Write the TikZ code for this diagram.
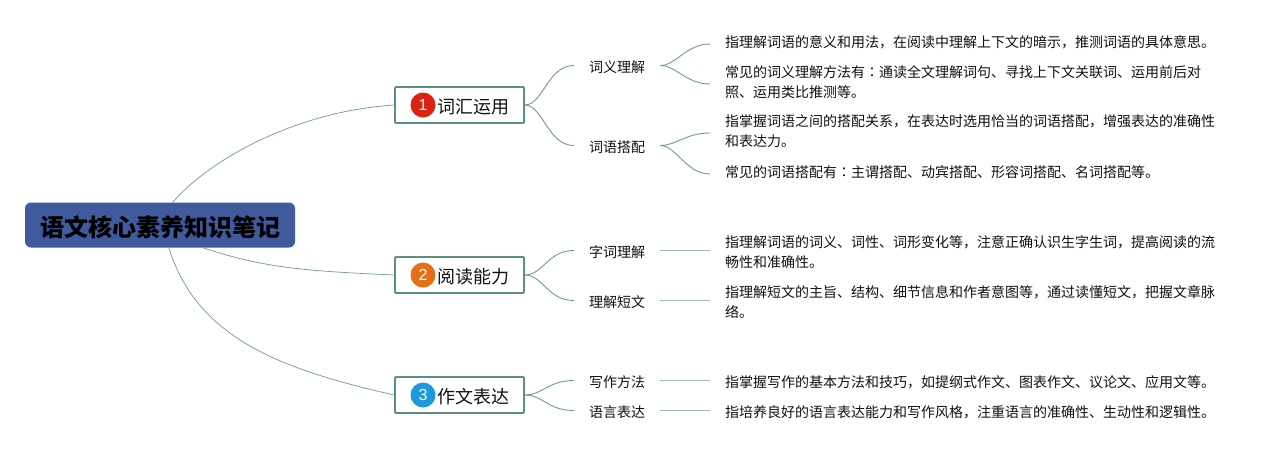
\documentclass[tikz,border=0pt]{standalone}
\usepackage{fontspec}
\setmainfont{Noto Sans CJK SC}
\newfontfamily\digitfont{Liberation Sans}
\newfontfamily\tcfont{Noto Sans CJK TC}
\definecolor{linkc}{HTML}{6C9E90}
\definecolor{linkl}{HTML}{9CC0B5}
\definecolor{boxc}{HTML}{5A9080}
\definecolor{mainc}{HTML}{405A9E}
\definecolor{txtc}{HTML}{111111}
\definecolor{numa}{HTML}{DC2210}
\definecolor{numb}{HTML}{E56F17}
\definecolor{numc}{HTML}{1E9ADC}
\tikzset{
  rootbox/.style={draw=none,fill=mainc,rounded corners=6pt,minimum width=270pt,minimum height=45pt,inner sep=0pt,font=\fontsize{24}{28}\selectfont\bfseries,text=black},
  topicbox/.style={draw=boxc,line width=1.7pt,fill=white,rounded corners=0.8pt,minimum width=129pt,minimum height=36pt,inner sep=0pt},
  topictext/.style={inner sep=0pt,font=\fontsize{18}{22}\selectfont,text=txtc},
  numdot/.style={circle,minimum size=25pt,inner sep=0pt,text=white,font=\digitfont\fontsize{16}{18}\selectfont},
  sublabel/.style={minimum width=86pt,inner sep=0pt,font=\fontsize{14}{18}\selectfont,text=txtc},
  leafnote/.style={anchor=west,inner xsep=15pt,inner ysep=0pt,align=left,font=\fontsize{14}{20.5}\selectfont,text=txtc},
  mainlink/.style={draw=linkc,line width=0.7pt},
  sublink/.style={draw=linkc,line width=0.9pt},
  leaflink/.style={draw=linkl,line width=1.4pt},
}
\newcommand{\scurve}[2]{\draw[sublink] (#1.east) .. controls +(18,0) and +(-26,0) .. (#2.west);}
\newcommand{\cc}{{\tcfont ：}}
\newcommand{\lowr}{\rule{0pt}{15pt}}
\begin{document}
\begin{tikzpicture}[x=1pt,y=-1pt]
\useasboundingbox (0,0) rectangle (1285,450);
\fill[white] (0,0) rectangle (1285,450);
% root
\node[rootbox] (root) at (160,225) {\rule{0pt}{25pt}\hspace{1pt}语文核心素养知识笔记};
% topics
\node[topicbox] (t1) at (459.5,105) {};
\node[topicbox] (t2) at (459.5,275) {};
\node[topicbox] (t3) at (459.5,395) {};
\node[numdot,fill=numa] (n1) at (423,105) {1};
\node[numdot,fill=numb] (n2) at (423,275) {2};
\node[numdot,fill=numc] (n3) at (423,395) {3};
\node[topictext,anchor=west] (x1) at (437.5,106.5) {词汇运用};
\node[topictext,anchor=west] (x2) at (437.5,276.5) {阅读能力};
\node[topictext,anchor=west] (x3) at (437.5,396.5) {作文表达};
% sub labels
\node[sublabel] (a1) at (617,65.5) {\lowr 词义理解};
\node[sublabel] (a2) at (617,145.5) {\lowr 词语搭配};
\node[sublabel] (b1) at (617,250.5) {\lowr 字词理解};
\node[sublabel] (b2) at (617,300.5) {\lowr 理解短文};
\node[sublabel] (c1) at (617,380.5) {\lowr 写作方法};
\node[sublabel] (c2) at (617,410.5) {\lowr 语言表达};
% notes
\node[leafnote] (l1) at (710,42) {指理解词语的意义和用法，在阅读中理解上下文的暗示，推测词语的具体意思。};
\node[leafnote] (l2) at (710,82) {常见的词义理解方法有\cc 通读全文理解词句、寻找上下文关联词、运用前后对\\照、运用类比推测等。};
\node[leafnote] (l3) at (710,131) {指掌握词语之间的搭配关系，在表达时选用恰当的词语搭配，增强表达的准确性\\和表达力。};
\node[leafnote] (l4) at (710,172) {常见的词语搭配有\cc 主谓搭配、动宾搭配、形容词搭配、名词搭配等。};
\node[leafnote] (l5) at (710,252) {指理解词语的词义、词性、词形变化等，注意正确认识生字生词，提高阅读的流\\畅性和准确性。};
\node[leafnote] (l6) at (710,302) {指理解短文的主旨、结构、细节信息和作者意图等，通过读懂短文，把握文章脉\\络。};
\node[leafnote] (l7) at (710,382) {指掌握写作的基本方法和技巧，如提纲式作文、图表作文、议论文、应用文等。};
\node[leafnote] (l8) at (710,412) {指培养良好的语言表达能力和写作风格，注重语言的准确性、生动性和逻辑性。};
% root links
\draw[mainlink] ([xshift=148pt]root.north west) .. controls +(32,-38) and +(-105,7) .. (t1.west);
\draw[mainlink] ([xshift=178pt]root.south west) .. controls +(60,20) and +(-90,-4) .. (t2.west);
\draw[mainlink] ([xshift=144pt]root.south west) .. controls +(28,90) and +(-115,-26) .. (t3.west);
% topic to sub
\scurve{t1}{a1}
\scurve{t1}{a2}
\scurve{t2}{b1}
\scurve{t2}{b2}
\scurve{t3}{c1}
\scurve{t3}{c2}
% sub to notes
\draw[sublink] (a1.east) .. controls +(16,0) and +(-24,0) .. ([yshift=-2pt]l1.west);
\draw[sublink] (a1.east) .. controls +(16,0) and +(-24,0) .. ([yshift=-2pt]l2.west);
\draw[sublink] (a2.east) .. controls +(16,0) and +(-24,0) .. ([yshift=-2pt]l3.west);
\draw[sublink] (a2.east) .. controls +(16,0) and +(-24,0) .. ([yshift=-2pt]l4.west);
\draw[leaflink] (b1.east) -- (b1.east -| l5.west);
\draw[leaflink] (b2.east) -- (b2.east -| l6.west);
\draw[leaflink] (c1.east) -- (c1.east -| l7.west);
\draw[leaflink] (c2.east) -- (c2.east -| l8.west);
\end{tikzpicture}
\end{document}
